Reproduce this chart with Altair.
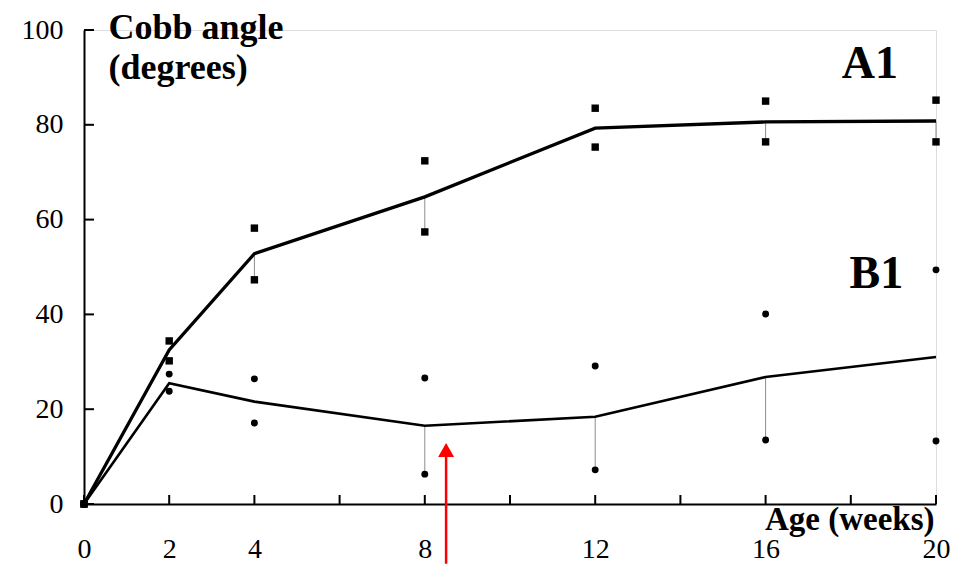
import altair as alt
import pandas as pd

# ---- data ----
weeks = [0, 2, 4, 8, 12, 16, 20]
a1_mean = [0, 32.5, 52.8, 64.8, 79.3, 80.6, 80.8]
a1_high = [0, 34.4, 58.2, 72.4, 83.5, 85.0, 85.2]
a1_low = [0, 30.2, 47.3, 57.4, 75.3, 76.4, 76.4]
b1_mean = [0, 25.5, 21.6, 16.5, 18.4, 26.8, 31.0]
b1_high = [0, 27.4, 26.4, 26.6, 29.1, 40.1, 49.4]
b1_low = [0, 23.8, 17.1, 6.3, 7.2, 13.5, 13.3]

# weeks at which a connecting range line is visible
a1_bar_weeks = [4, 8, 16, 20]
b1_bar_weeks = [8, 12, 16]

x_label_values = [0, 2, 4, 8, 12, 16, 20]
x_tick_values = [0, 2, 4, 6, 8, 10, 12, 14, 16, 18, 20]
y_tick_values = [0, 20, 40, 60, 80, 100]

series_labels = ["A1", "B1"]
series_label_x = [18.45, 18.6]
series_label_y = [89.9, 45.6]

arrow_x = [8.5]
arrow_base = [-12.6]
arrow_head = [11.4]

FONT = "Liberation Serif"

# ---- tables ----
rows = []
for name, m, hi, lo, bw in [("A1", a1_mean, a1_high, a1_low, a1_bar_weeks),
                            ("B1", b1_mean, b1_high, b1_low, b1_bar_weeks)]:
    for w, mv, hv, lv in zip(weeks, m, hi, lo):
        rows.append({"series": name, "week": w, "value": mv, "value2": hv, "low": lv,
                     "bar": w in bw})
df = pd.DataFrame(rows)

pts = []
for name, hi, lo in [("A1", a1_high, a1_low), ("B1", b1_high, b1_low)]:
    for w, hv, lv in zip(weeks, hi, lo):
        pts.append({"series": name, "week": w, "value": hv})
        pts.append({"series": name, "week": w, "value": lv})
pts = pd.DataFrame(pts)

xt = pd.DataFrame({"week": x_tick_values})
yt = pd.DataFrame({"value": y_tick_values})
lab = pd.DataFrame({"label": series_labels, "week": series_label_x, "value": series_label_y})
arr = pd.DataFrame({"week": arrow_x, "value": arrow_base, "value2": arrow_head})

x_axis = alt.Axis(
    values=x_label_values, grid=False, ticks=False, tickSize=0,
    domainColor="black", domainWidth=2,
    labelFont=FONT, labelFontSize=28, labelColor="black",
    labelBaseline="alphabetic", labelPadding=53, labelFlush=False,
    title="Age (weeks)", titleFont=FONT, titleFontSize=33, titleFontWeight="bold",
    titleColor="black", titleAlign="right", titleBaseline="alphabetic",
    titleX=850, titleY=25,
)
y_axis = alt.Axis(
    values=y_tick_values, grid=False, ticks=False, tickSize=0,
    domainColor="black", domainWidth=2,
    labelFont=FONT, labelFontSize=28, labelColor="black", labelPadding=21,
    labelFlush=False,
    title=["Cobb angle", "(degrees)"], titleFont=FONT, titleFontSize=36,
    titleFontWeight="bold", titleColor="black", titleAngle=0,
    titleAlign="left", titleBaseline="alphabetic", titleLineHeight=40,
    titleX=24, titleY=8,
)

X = alt.X("week:Q", scale=alt.Scale(domain=[0, 20], nice=False, zero=False), axis=x_axis)
Y = alt.Y("value:Q", scale=alt.Scale(domain=[0, 100], nice=False), axis=y_axis)

err = alt.Chart(df[df.bar]).mark_rule(color="#8c8c8c", strokeWidth=1).encode(
    x=X, y=Y, y2=alt.Y2("low:Q")
)

line_a = alt.Chart(df[df.series == "A1"]).mark_line(color="black", strokeWidth=3.3).encode(x=X, y=Y)
line_b = alt.Chart(df[df.series == "B1"]).mark_line(color="black", strokeWidth=2.6).encode(x=X, y=Y)

pts_a = alt.Chart(pts[pts.series == "A1"]).mark_point(
    shape="square", filled=True, color="black", size=55, opacity=1
).encode(x=X, y=Y)
pts_b = alt.Chart(pts[pts.series == "B1"]).mark_circle(color="black", size=48, opacity=1).encode(x=X, y=Y)

xticks = alt.Chart(xt).mark_rule(color="black", strokeWidth=2).encode(
    x=X, y=alt.value(474), y2=alt.value(465)
)
yticks = alt.Chart(yt).mark_rule(color="black", strokeWidth=2).encode(
    y=Y, x=alt.value(0), x2=alt.value(10)
)

labels = alt.Chart(lab).mark_text(
    font=FONT, fontSize=46, fontWeight="bold", color="black",
    align="center", baseline="alphabetic"
).encode(x=X, y=Y, text="label:N")

arrow_shaft = alt.Chart(arr).mark_rule(color="#ff0000", strokeWidth=2.5).encode(
    x=X, y=Y, y2=alt.Y2("value2:Q")
)
arrow_tip = alt.Chart(arr).mark_point(
    shape="triangle-up", filled=True, color="#ff0000", size=256, opacity=1, strokeWidth=0
).encode(x=X, y=alt.Y("value2:Q"))

chart = alt.layer(
    err, line_a, line_b, pts_a, pts_b, xticks, yticks, labels, arrow_shaft, arrow_tip
).properties(
    width=852, height=474,
    autosize=alt.AutoSizeParams(type="none"),
    padding={"left": 76, "top": 22, "right": 16, "bottom": 60},
).configure_view(stroke=None).configure(background="white")

chart.save("out.html", embed_options={"renderer": "svg", "actions": False})
